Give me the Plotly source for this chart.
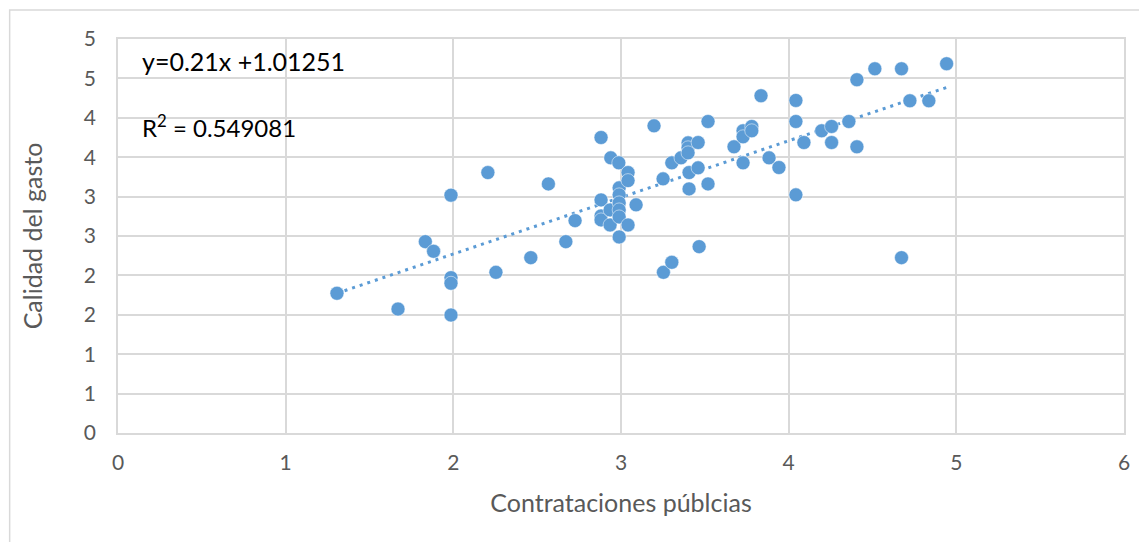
import numpy as np
import plotly.graph_objects as go

# Data
contrataciones = [1.306, 1.670, 1.833, 1.882, 1.986, 1.986, 1.986, 1.986, 2.206, 2.254,
                  2.462, 2.567, 2.671, 2.726, 2.881, 2.881, 2.881, 2.881, 2.939, 2.935,
                  2.935, 2.987, 2.989, 2.989, 2.989, 2.989, 2.989, 2.989, 3.042, 3.042,
                  3.042, 3.090, 3.197, 3.251, 3.253, 3.303, 3.303, 3.358, 3.400, 3.400,
                  3.400, 3.406, 3.406, 3.460, 3.460, 3.466, 3.519, 3.519, 3.674, 3.728,
                  3.728, 3.728, 3.780, 3.780, 3.835, 3.883, 3.942, 4.043, 4.043, 4.043,
                  4.091, 4.197, 4.256, 4.256, 4.359, 4.407, 4.407, 4.514, 4.673, 4.673,
                  4.723, 4.836, 4.942]
calidad = [1.773, 1.573, 2.428, 2.306, 3.018, 1.971, 1.900, 1.497, 3.305, 2.039,
           2.225, 3.161, 2.428, 2.695, 3.750, 2.958, 2.755, 2.704, 3.492, 2.831,
           2.640, 3.428, 3.111, 3.022, 2.920, 2.831, 2.742, 2.488, 3.305, 3.203,
           2.640, 2.895, 3.898, 3.225, 2.039, 3.428, 2.166, 3.492, 3.682, 3.619,
           3.555, 3.305, 3.098, 3.686, 3.365, 2.365, 3.953, 3.161, 3.632, 3.835,
           3.759, 3.428, 3.890, 3.835, 4.280, 3.492, 3.369, 3.953, 4.220, 3.022,
           3.686, 3.835, 3.890, 3.686, 3.953, 4.483, 3.632, 4.622, 4.622, 2.225,
           4.216, 4.216, 4.686]

y_tickvals = [0, 0.5, 1, 1.5, 2, 2.5, 3, 3.5, 4, 4.5, 5]
y_ticktext = ["0", "1", "1", "2", "2", "3", "3", "4", "4", "5", "5"]
x_tickvals = [0, 1, 2, 3, 4, 5, 6]

equation_text = "y=0.21x +1.01251"
r2_text = "R<sup>2</sup> = 0.549081"

BLUE = "#5B9BD5"
GRID = "#D9D9D9"
TXT = "#595959"
FONT = "Lato, Carlito, 'Open Sans', sans-serif"

xs = np.array(contrataciones)
ys = np.array(calidad)
slope, intercept = np.polyfit(xs, ys, 1)
trend_x = np.linspace(xs.min(), xs.max(), 50)
trend_y = slope * trend_x + intercept

fig = go.Figure()
fig.add_trace(go.Scatter(
    x=trend_x, y=trend_y, mode="lines",
    line=dict(color=BLUE, width=3, dash="3px,5px"),
    hoverinfo="skip", showlegend=False))
fig.add_trace(go.Scatter(
    x=contrataciones, y=calidad, mode="markers",
    marker=dict(color=BLUE, size=14, line=dict(width=0.5, color="white")),
    showlegend=False))

fig.update_layout(
    width=1139, height=534,
    margin=dict(l=109.5, r=22.5, t=31, b=109),
    paper_bgcolor="white", plot_bgcolor="white",
    font=dict(family=FONT, color=TXT, size=20),
    xaxis=dict(
        range=[0, 6], tickvals=x_tickvals, showgrid=True, gridcolor=GRID, gridwidth=1.5,
        zeroline=False, showline=True, linecolor=GRID, linewidth=1.5, mirror=True,
        ticks="", ticklabelstandoff=10, tickfont=dict(size=21, color=TXT, family=FONT),
        title=dict(text="Contrataciones públcias", font=dict(size=25, color=TXT, family=FONT), standoff=22),
    ),
    yaxis=dict(
        range=[0, 5], tickvals=y_tickvals, ticktext=y_ticktext, showgrid=True,
        gridcolor=GRID, gridwidth=1.5, zeroline=False, showline=True, linecolor=GRID,
        linewidth=1.5, mirror=True, ticks="", ticklabelstandoff=16,
        tickfont=dict(size=21, color=TXT, family=FONT),
        title=dict(text="Calidad del gasto", font=dict(size=25, color=TXT, family=FONT), standoff=34),
    ),
    shapes=[dict(type="rect", xref="paper", yref="paper",
                 x0=-0.1077, x1=1.03, y0=-0.3, y1=1.0736,
                 line=dict(color=GRID, width=1.5), layer="below")],
    annotations=[
        dict(text=equation_text, xref="paper", yref="paper", x=0.022, y=0.943,
             xanchor="left", yanchor="middle", showarrow=False,
             font=dict(size=25, color="black", family=FONT)),
        dict(text=r2_text, xref="paper", yref="paper", x=0.022, y=0.78,
             xanchor="left", yanchor="middle", showarrow=False,
             font=dict(size=24, color="black", family=FONT)),
    ],
)

fig.write_html("out.html")
